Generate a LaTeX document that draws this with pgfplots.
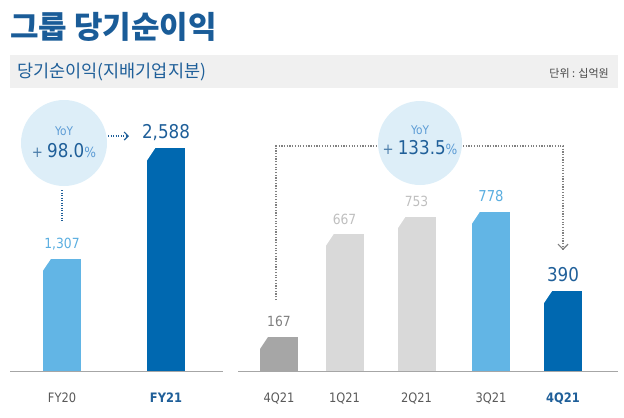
\documentclass[border=0pt]{standalone}
\usepackage{fontspec}
\setmainfont{DejaVu Sans}
\newfontfamily\kr{Noto Sans CJK KR}
\newfontfamily\num[FakeStretch=0.88]{DejaVu Sans}
\usepackage{pgfplots}
\pgfplotsset{compat=1.18}
\usetikzlibrary{arrows.meta}
\definecolor{titleblue}{HTML}{1A5C98}
\definecolor{darkblue}{HTML}{0068B0}
\definecolor{lightblue}{HTML}{62B5E5}
\definecolor{lgray}{HTML}{D9D9D9}
\definecolor{dgray}{HTML}{A6A6A6}
\definecolor{circ}{HTML}{DDEEF8}
\definecolor{band}{HTML}{F0F0F0}
\definecolor{txtgray}{HTML}{595959}
\definecolor{numblue}{HTML}{1F5F99}
\definecolor{yoyblue}{HTML}{5B9BD5}
\definecolor{lbltext}{HTML}{5AAEE0}
\definecolor{midgray}{HTML}{7F7F7F}
\definecolor{lightgtext}{HTML}{BFBFBF}
\pgfdeclareplotmark{chamfer}{%
  \pgfpathmoveto{\pgfpoint{-20bp}{1bp}}%
  \pgfpathlineto{\pgfpoint{-10.3bp}{1bp}}%
  \pgfpathlineto{\pgfpoint{-20bp}{-13.5bp}}%
  \pgfpathclose\pgfusepath{fill}}
\pgfplotsset{
  barstyle/.style={ybar, bar width=38bp, bar shift=0pt, draw=none,
    nodes near coords,
    /pgf/number format/.cd, 1000 sep={,}, assume math mode=true, /pgfplots/.cd},
  cut/.style={only marks, mark=chamfer, color=white, mark options={fill=white, draw=none}},
  lbl/.style 2 args={nodes near coords style={anchor=base, yshift=10bp, text=#1,
    font=\num\fontsize{#2}{#2}\selectfont}},
  baseaxis/.style={scale only axis, height=230bp, ymin=0,
    axis y line=none, axis x line=bottom,
    x axis line style={-, draw=dgray, line width=1bp},
    major tick length=0pt,
    xticklabel style={anchor=base, yshift=-31bp, font=\num\fontsize{13bp}{13bp}\selectfont, text=txtgray},
    clip=false}
}
\begin{document}
\begin{tikzpicture}[x=1bp,y=1bp]
\useasboundingbox (0,0) rectangle (624,-417);
% title
\node[anchor=west, inner sep=0, text=titleblue] at (10,-27) {\kr\bfseries\fontsize{31bp}{31bp}\selectfont 그룹 당기순이익};
% band
\fill[band] (10,-55) rectangle (618,-88);
\node[anchor=west, inner sep=0, text=numblue] at (17,-72) {\kr\fontsize{17.5bp}{17.5bp}\selectfont 당기순이익(지배기업지분)};
\node[anchor=east, inner sep=0, text=txtgray!80!black] at (609,-73) {\kr\fontsize{11bp}{11bp}\selectfont 단위 : 십억원};

% left axis
\begin{axis}[baseaxis, at={(10bp,-371bp)}, anchor=south west, width=213bp,
  xmin=10, xmax=223, ymax=2674,
  xtick={62,166}, xticklabels={FY20, \textbf{\color{numblue}FY21}}]
\addplot[barstyle, fill=lightblue, lbl={lbltext}{14bp}] coordinates {(62,1307)};
\addplot[cut] coordinates {(62,1307)};
\addplot[barstyle, fill=darkblue, lbl={numblue}{19bp}] coordinates {(166,2588)};
\addplot[cut] coordinates {(166,2588)};
\end{axis}

% right axis
\begin{axis}[baseaxis, at={(238bp,-371bp)}, anchor=south west, width=380bp,
  xmin=238, xmax=618, ymax=1122,
  xtick={279,344.5,416.5,491,563}, xticklabels={4Q21,1Q21,2Q21,3Q21,\textbf{\color{numblue}4Q21}}]
\addplot[barstyle, fill=dgray, lbl={midgray}{14bp}] coordinates {(279,167)};
\addplot[barstyle, fill=lgray, lbl={lightgtext}{14bp}] coordinates {(344.5,667)};
\addplot[barstyle, fill=lgray, lbl={lightgtext}{14bp}] coordinates {(416.5,753)};
\addplot[barstyle, fill=lightblue, lbl={lbltext}{15bp}] coordinates {(491,778)};
\addplot[barstyle, fill=darkblue, lbl={numblue}{19bp}] coordinates {(563,390)};
\addplot[cut] coordinates {(279,167) (344.5,667) (416.5,753) (491,778) (563,390)};
\end{axis}

% left circle
\fill[circ] (64,-143) circle (43);
\node[text=yoyblue] at (64,-131) {\num\fontsize{12bp}{12bp}\selectfont YoY};
\node at (64,-151) {\num{\fontsize{15bp}{15bp}\selectfont\color{yoyblue!80!black}+\ }{\fontsize{19bp}{19bp}\selectfont\color{numblue}98.0}{\fontsize{14bp}{14bp}\selectfont\color{yoyblue}\%}};
\draw[numblue, line width=1.2bp, dash pattern=on 1.2bp off 1.3bp] (62,-190) -- (62,-222);
\draw[numblue, line width=1.2bp, dash pattern=on 1.2bp off 1.3bp, -{Straight Barb[length=4bp,width=8bp]}] (108,-136) -- (129,-136);

% right circle
\fill[circ] (420,-143) circle (42);
\node[text=yoyblue] at (420,-130) {\num\fontsize{12bp}{12bp}\selectfont YoY};
\node at (420,-148) {\num{\fontsize{15bp}{15bp}\selectfont\color{yoyblue!80!black}+\ }{\fontsize{19bp}{19bp}\selectfont\color{numblue}133.5}{\fontsize{14bp}{14bp}\selectfont\color{yoyblue}\%}};
\draw[gray, line width=1.2bp, dash pattern=on 1.2bp off 1.5bp] (276,-300) |- (377,-146);
\draw[gray, line width=1.2bp, dash pattern=on 1.2bp off 1.5bp, -{Straight Barb[length=5bp,width=10bp]}] (463,-146) -| (563,-250);
\end{tikzpicture}
\end{document}
